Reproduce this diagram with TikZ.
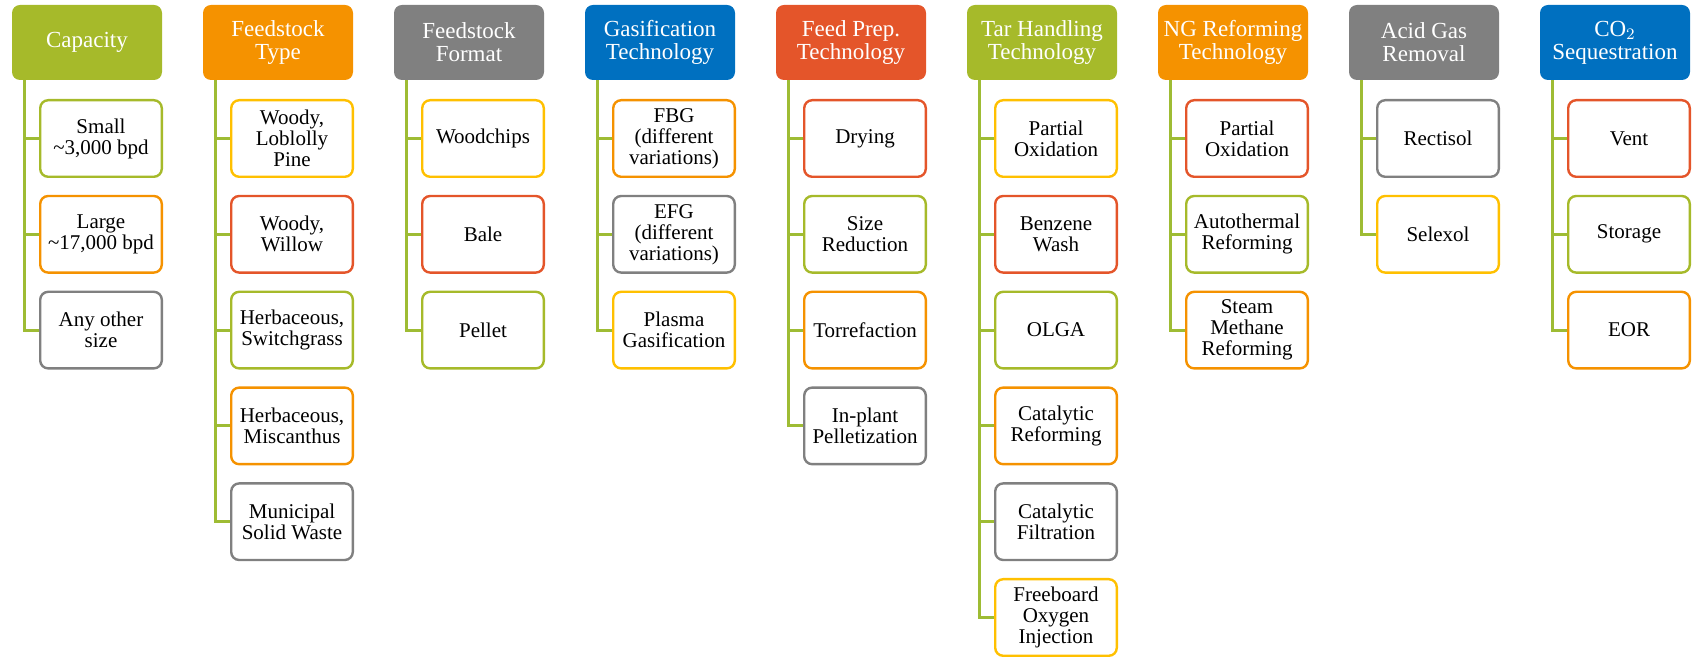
\documentclass[tikz,border=0pt]{standalone}
\usepackage{fontspec}
\setmainfont{Liberation Serif}
\newfontfamily\boxfont{Liberation Serif}
\usetikzlibrary{calc}
\definecolor{cgreen}{RGB}{166,186,42}
\definecolor{corange}{RGB}{245,146,0}
\definecolor{cgray}{RGB}{128,128,128}
\definecolor{cblue}{RGB}{0,112,192}
\definecolor{cred}{RGB}{228,85,42}
\definecolor{cyellow}{RGB}{255,192,0}
\definecolor{lgreen}{RGB}{158,188,52}
\tikzset{
  hdr/.style={fill=#1, rounded corners=4pt, minimum width=75pt, minimum height=37.5pt,
    text=white, font=\boxfont\fontsize{11.5}{11.6}\selectfont, align=center, inner sep=0pt},
  item/.style={draw=#1, line width=1.2pt, fill=white, rounded corners=4pt,
    minimum width=60.8pt, minimum height=38.3pt, font=\boxfont\fontsize{10.5}{10.5}\selectfont,
    align=center, inner sep=0pt},
  link/.style={draw=lgreen, line width=1.5pt},
}
% branch from a header's trunk to one of its items
\newcommand\branch[2]{\draw[link] ($(#1.south west)+(13,0)$) |- (#2.west);}
\begin{document}
\begin{tikzpicture}[x=0.5pt,y=-0.5pt]
\useasboundingbox (0,0) rectangle (1694,657);

% ---- headers ----
\node[hdr=cgreen]  (h1) at (87,42.5)   {Capacity};
\node[hdr=corange] (h2) at (278,42.5)  {Feedstock\\Type};
\node[hdr=cgray]   (h3) at (469,42.5)  {Feedstock\\Format};
\node[hdr=cblue]   (h4) at (660,42.5)  {Gasification\\Technology};
\node[hdr=cred]    (h5) at (851,42.5)  {Feed Prep.\\Technology};
\node[hdr=cgreen]  (h6) at (1042,42.5) {Tar Handling\\Technology};
\node[hdr=corange] (h7) at (1233,42.5) {NG Reforming\\Technology};
\node[hdr=cgray]   (h8) at (1424,42.5) {Acid Gas\\Removal};
\node[hdr=cblue]   (h9) at (1615,42.5) {CO$_2$\\Sequestration};

% ---- Capacity ----
\node[item=cgreen]  (a1) at (101,138.5) {Small\\\textasciitilde3,000 bpd};
\node[item=corange] (a2) at (101,234.3) {Large\\\textasciitilde17,000 bpd};
\node[item=cgray]   (a3) at (101,330.1) {Any other\\size};

% ---- Feedstock Type ----
\node[item=cyellow] (b1) at (292,138.5) {Woody,\\Loblolly\\Pine};
\node[item=cred]    (b2) at (292,234.3) {Woody,\\Willow};
\node[item=cgreen]  (b3) at (292,330.1) {Herbaceous,\\Switchgrass};
\node[item=corange] (b4) at (292,425.9) {Herbaceous,\\Miscanthus};
\node[item=cgray]   (b5) at (292,521.7) {Municipal\\Solid Waste};

% ---- Feedstock Format ----
\node[item=cyellow] (c1) at (483,138.5) {Woodchips};
\node[item=cred]    (c2) at (483,234.3) {Bale};
\node[item=cgreen]  (c3) at (483,330.1) {Pellet};

% ---- Gasification Technology ----
\node[item=corange] (d1) at (674,138.5) {FBG\\(different\\variations)};
\node[item=cgray]   (d2) at (674,234.3) {EFG\\(different\\variations)};
\node[item=cyellow] (d3) at (674,330.1) {Plasma\\Gasification};

% ---- Feed Prep. Technology ----
\node[item=cred]    (e1) at (865,138.5) {Drying};
\node[item=cgreen]  (e2) at (865,234.3) {Size\\Reduction};
\node[item=corange] (e3) at (865,330.1) {Torrefaction};
\node[item=cgray]   (e4) at (865,425.9) {In-plant\\Pelletization};

% ---- Tar Handling Technology ----
\node[item=cyellow] (f1) at (1056,138.5) {Partial\\Oxidation};
\node[item=cred]    (f2) at (1056,234.3) {Benzene\\Wash};
\node[item=cgreen]  (f3) at (1056,330.1) {OLGA};
\node[item=corange] (f4) at (1056,425.9) {Catalytic\\Reforming};
\node[item=cgray]   (f5) at (1056,521.7) {Catalytic\\Filtration};
\node[item=cyellow] (f6) at (1056,617.5) {Freeboard\\Oxygen\\Injection};

% ---- NG Reforming Technology ----
\node[item=cred]    (g1) at (1247,138.5) {Partial\\Oxidation};
\node[item=cgreen]  (g2) at (1247,234.3) {Autothermal\\Reforming};
\node[item=corange] (g3) at (1247,330.1) {Steam\\Methane\\Reforming};

% ---- Acid Gas Removal ----
\node[item=cgray]   (k1) at (1438,138.5) {Rectisol};
\node[item=cyellow] (k2) at (1438,234.3) {Selexol};

% ---- CO2 Sequestration ----
\node[item=cred]    (m1) at (1629,138.5) {Vent};
\node[item=cgreen]  (m2) at (1629,234.3) {Storage};
\node[item=corange] (m3) at (1629,330.1) {EOR};

% ---- connectors ----
\foreach \c in {a1,a2,a3} {\branch{h1}{\c}}
\foreach \c in {b1,b2,b3,b4,b5} {\branch{h2}{\c}}
\foreach \c in {c1,c2,c3} {\branch{h3}{\c}}
\foreach \c in {d1,d2,d3} {\branch{h4}{\c}}
\foreach \c in {e1,e2,e3,e4} {\branch{h5}{\c}}
\foreach \c in {f1,f2,f3,f4,f5,f6} {\branch{h6}{\c}}
\foreach \c in {g1,g2,g3} {\branch{h7}{\c}}
\foreach \c in {k1,k2} {\branch{h8}{\c}}
\foreach \c in {m1,m2,m3} {\branch{h9}{\c}}
\end{tikzpicture}
\end{document}
